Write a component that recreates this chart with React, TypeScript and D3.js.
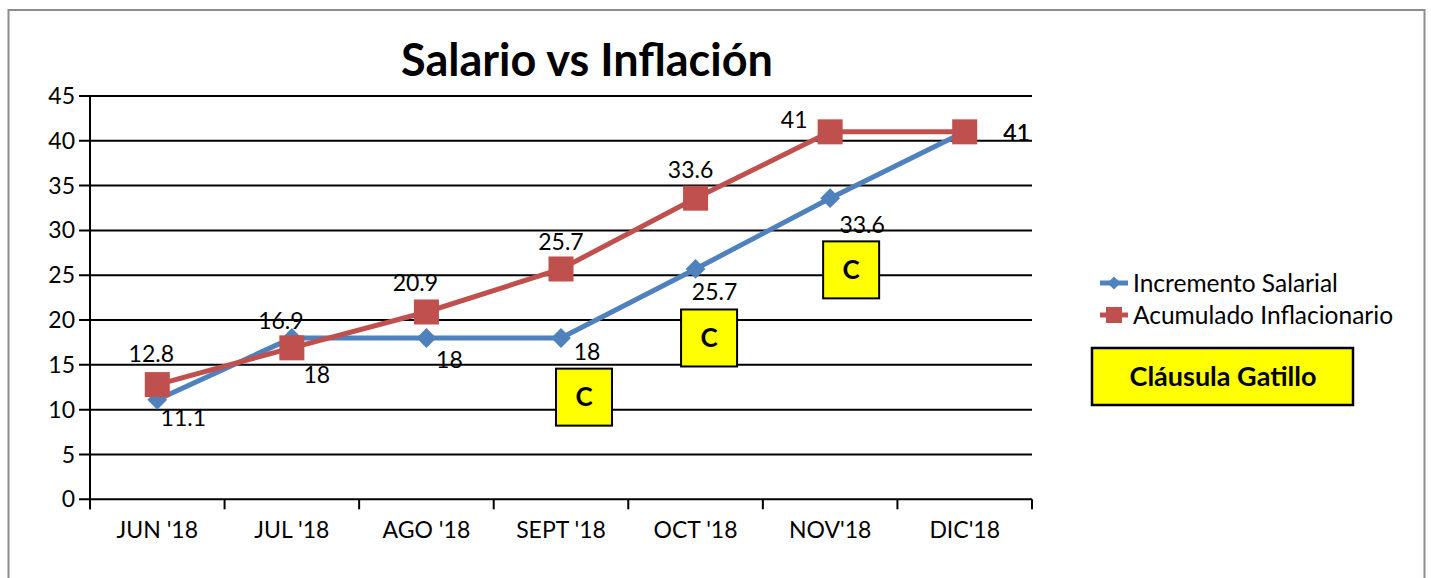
import React from "react";
import * as d3 from "d3";

const categories = ["JUN '18", "JUL '18", "AGO '18", "SEPT '18", "OCT '18", "NOV'18", "DIC'18"];
const salarial = [11.1, 18, 18, 18, 25.7, 33.6, 41];
const inflacion = [12.8, 16.9, 20.9, 25.7, 33.6, 41, 41];
const yTicks = [0, 5, 10, 15, 20, 25, 30, 35, 40, 45];
const seriesNames = ["Incremento Salarial", "Acumulado Inflacionario"];
const clausulaCats = ["SEPT '18", "OCT '18", "NOV'18"];
const clausulaLevels = [11.4, 18.0, 25.6];

// layout-only offsets (px)
const clausulaDx = [23, 13.5, 21];
const blueOff = [[26, 18], [25, 37], [23, 22], [26, 14], [19, 23], [32, 27], [52, 1]];
const redOff = [[-6, -31], [-11, -27], [-11, -29], [0, -27], [-5, -28], [-36, -12], [52, 1]];

const FONT = "Lato, 'Open Sans', sans-serif";
const BLUE = "#4F81BD";
const RED = "#C0504D";

export default function App() {
  const left = 90, right = 1032, top = 96, bottom = 499.3;
  const x = d3.scaleBand().domain(categories).range([left, right]);
  const y = d3.scaleLinear().domain([0, 45]).range([bottom, top]);
  const cx = (c: string) => (x(c) as number) + x.bandwidth() / 2;
  const line = d3.line<number>().x((_, i) => cx(categories[i])).y((d) => y(d));
  const diamond = d3.symbol().type(d3.symbolDiamond2).size(250)();

  return (
    <svg width={1431} height={578} style={{ position: "absolute", left: 0, top: 0, fontFamily: FONT }}>
      <rect x={0} y={0} width={1431} height={578} fill="#fff" />
      <rect x={8.5} y={10} width={1416} height={600} fill="none" stroke="#8c8c8c" strokeWidth={2} />
      <text x={587} y={76} textAnchor="middle" fontSize={45} fontWeight="bold" fill="#000">
        Salario vs Inflación
      </text>
      {yTicks.map((t) => (
        <g key={t}>
          <line x1={79} x2={right} y1={y(t)} y2={y(t)} stroke="#000" strokeWidth={2} />
          <text x={75} y={y(t)} dy="0.35em" textAnchor="end" fontSize={23} fill="#000">
            {t}
          </text>
        </g>
      ))}
      <line x1={left} x2={left} y1={top} y2={bottom + 10} stroke="#000" strokeWidth={2} />
      {categories.concat([""]).map((c, i) => {
        const xx = left + i * x.bandwidth();
        return <line key={"t" + i} x1={xx} x2={xx} y1={bottom} y2={bottom + 10} stroke="#000" strokeWidth={2} />;
      })}
      {categories.map((c) => (
        <text key={c} x={cx(c)} y={538} textAnchor="middle" fontSize={23} fill="#000">
          {c}
        </text>
      ))}
      {inflacion.map((v, i) => (
        <text key={"rl" + i} x={cx(categories[i]) + redOff[i][0]} y={y(v) + redOff[i][1]} dy="0.35em" textAnchor="middle" fontSize={23} fill="#000">
          {v}
        </text>
      ))}
      <path d={line(salarial) || ""} fill="none" stroke={BLUE} strokeWidth={5} />
      {salarial.map((v, i) => (
        <path key={"bd" + i} d={diamond || ""} transform={`translate(${cx(categories[i])},${y(v)})`} fill={BLUE} />
      ))}
      <path d={line(inflacion) || ""} fill="none" stroke={RED} strokeWidth={5} />
      {inflacion.map((v, i) => (
        <rect key={"rs" + i} x={cx(categories[i]) - 12.5} y={y(v) - 12.5} width={25} height={25} fill={RED} />
      ))}
      {salarial.map((v, i) => (
        <text key={"bl" + i} x={cx(categories[i]) + blueOff[i][0]} y={y(v) + blueOff[i][1]} dy="0.35em" textAnchor="middle" fontSize={23} fill="#000">
          {v}
        </text>
      ))}
      {clausulaCats.map((c, i) => {
        const bx = cx(c) + clausulaDx[i];
        const by = y(clausulaLevels[i]);
        return (
          <g key={"c" + i}>
            <rect x={bx - 28} y={by - 28.5} width={56} height={57} fill="#ffff00" stroke="#000" strokeWidth={2} />
            <text x={bx} y={by} dy="0.36em" textAnchor="middle" fontSize={26} fontWeight="bold" fill="#000">
              C
            </text>
          </g>
        );
      })}
      {seriesNames.map((n, i) => {
        const ly = 283 + i * 32;
        return (
          <g key={n}>
            <line x1={1100} x2={1128} y1={ly} y2={ly} stroke={i === 0 ? BLUE : RED} strokeWidth={5} />
            {i === 0 ? (
              <path d={d3.symbol().type(d3.symbolDiamond2).size(110)() || ""} transform={`translate(1114,${ly})`} fill={BLUE} />
            ) : (
              <rect x={1106} y={ly - 8} width={16} height={16} fill={RED} />
            )}
            <text x={1133} y={ly} dy="0.35em" fontSize={24.5} fill="#000">
              {n}
            </text>
          </g>
        );
      })}
      <rect x={1092} y={348} width={261} height={57} fill="#ffff00" stroke="#000" strokeWidth={2.5} />
      <text x={1223} y={377} dy="0.35em" textAnchor="middle" fontSize={27} fontWeight="bold" fill="#000">
        Cláusula Gatillo
      </text>
    </svg>
  );
}
